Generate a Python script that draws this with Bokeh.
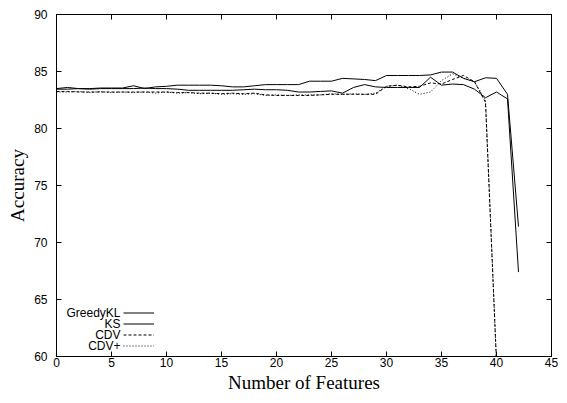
from bokeh.plotting import figure
from bokeh.models import (Range1d, LinearAxis, SingleIntervalTicker, Legend, LegendItem, Label,
                          CustomLabelingPolicy)
from bokeh.embed import file_html
from bokeh.resources import INLINE

# ---- data ----
x_long = list(range(0, 43))
x_short = list(range(0, 41))

greedykl = [83.5, 83.6, 83.5, 83.5, 83.55, 83.55, 83.55, 83.75, 83.5, 83.65,
            83.7, 83.8, 83.8, 83.8, 83.8, 83.75, 83.65, 83.65, 83.75, 83.85,
            83.85, 83.85, 83.85, 84.15, 84.15, 84.15, 84.4, 84.35, 84.3, 84.2,
            84.65, 84.65, 84.65, 84.65, 84.7, 84.95, 84.95, 84.4, 84.1, 84.45,
            84.4, 83.0, 71.4]
ks = [83.45, 83.45, 83.5, 83.45, 83.5, 83.5, 83.5, 83.5, 83.55, 83.5,
      83.5, 83.45, 83.35, 83.35, 83.35, 83.35, 83.35, 83.4, 83.45, 83.4,
      83.4, 83.35, 83.2, 83.2, 83.25, 83.3, 83.1, 83.6, 83.85, 83.65,
      83.6, 83.6, 83.6, 83.6, 84.5, 83.8, 83.9, 83.85, 83.45, 82.7,
      83.2, 82.6, 67.4]
cdv = [83.25, 83.25, 83.2, 83.2, 83.2, 83.2, 83.2, 83.2, 83.2, 83.2,
       83.2, 83.15, 83.15, 83.1, 83.1, 83.05, 83.1, 83.05, 83.1, 82.95,
       82.9, 82.9, 82.9, 82.9, 82.95, 83.0, 83.0, 83.0, 83.0, 83.0,
       83.7, 83.8, 83.65, 83.7, 84.0, 83.9, 84.3, 84.65, 84.1, 82.3,
       59.5]
cdvp = [83.2, 83.2, 83.25, 83.15, 83.25, 83.15, 83.2, 83.15, 83.2, 83.1,
        83.2, 83.1, 83.15, 83.05, 83.1, 83.0, 83.05, 83.0, 83.05, 82.9,
        82.95, 82.9, 82.95, 82.95, 82.95, 83.05, 83.0, 83.05, 83.0, 83.1,
        83.7, 83.8, 83.5, 83.0, 83.2, 84.2, 84.8, 84.4, 84.1, 82.5,
        59.5]
series_names = ["GreedyKL", "KS", "CDV", "CDV+"]
x_ticks_interval = 5
y_ticks_interval = 5

TICK_FONT = "Liberation Sans"
TITLE_FONT = "Liberation Serif"

p = figure(width=559, height=395, output_backend="svg", toolbar_location=None,
           x_range=Range1d(0, 45), y_range=Range1d(60, 90),
           min_border_left=56, min_border_right=8, min_border_top=14, min_border_bottom=36)
p.background_fill_color = "white"
p.border_fill_color = "white"
p.outline_line_color = "black"
p.outline_line_width = 1
p.xgrid.visible = False
p.ygrid.visible = False

for ax, tick in ((p.xaxis[0], x_ticks_interval), (p.yaxis[0], y_ticks_interval)):
    ax.ticker = SingleIntervalTicker(interval=tick)
    ax.minor_tick_line_color = None
    ax.major_tick_in = 5
    ax.major_tick_out = 0
    ax.axis_line_color = "black"
    ax.major_tick_line_color = "black"
    ax.major_label_text_font = TICK_FONT
    ax.major_label_text_font_size = "12px"
    ax.major_label_text_color = "black"
    ax.axis_label_text_font = TITLE_FONT
    ax.axis_label_text_font_size = "19px"
    ax.axis_label_text_font_style = "normal"
    ax.axis_label_text_color = "black"

p.xaxis[0].axis_label = "Number of Features"
p.yaxis[0].axis_label = "Accuracy"
p.xaxis[0].major_label_standoff = -3
p.xaxis[0].axis_label_standoff = 2
p.yaxis[0].major_label_standoff = 5
p.yaxis[0].axis_label_standoff = 3

# mirrored ticks on top and right (no labels)
no_labels = CustomLabelingPolicy(code="return new Set()")
for loc, tick in (("above", x_ticks_interval), ("right", y_ticks_interval)):
    m = LinearAxis(ticker=SingleIntervalTicker(interval=tick))
    m.minor_tick_line_color = None
    m.major_tick_in = 5
    m.major_tick_out = 0
    m.major_label_policy = no_labels
    m.major_label_text_font_size = "1px"
    m.major_label_standoff = 0
    m.axis_line_color = "black"
    m.major_tick_line_color = "black"
    p.add_layout(m, loc)

r1 = p.line(x_long, greedykl, line_color="black", line_width=1)
r2 = p.line(x_long, ks, line_color="black", line_width=1)
r3 = p.line(x_short, cdv, line_color="black", line_width=1, line_dash="3 2")
r4 = p.line(x_short, cdvp, line_color="black", line_width=1, line_dash="1 2")

legend = Legend(items=[LegendItem(label=" ", renderers=[r]) for r in (r1, r2, r3, r4)],
                location=(67, 5), glyph_width=31, glyph_height=11, label_height=11,
                label_width=0, label_standoff=0, spacing=0, padding=0, margin=0,
                label_text_font_size="8px", border_line_color=None,
                background_fill_alpha=0)
p.add_layout(legend, "center")

row_y = [43.5, 32.5, 21.5, 10.5]
for name, yy in zip(series_names, row_y):
    p.add_layout(Label(x=64, y=yy, x_units="screen", y_units="screen", text=name,
                       text_align="right", text_baseline="middle",
                       text_font=TICK_FONT, text_font_size="12px", text_color="black"))

open("out.html", "w").write(file_html(p, INLINE))
